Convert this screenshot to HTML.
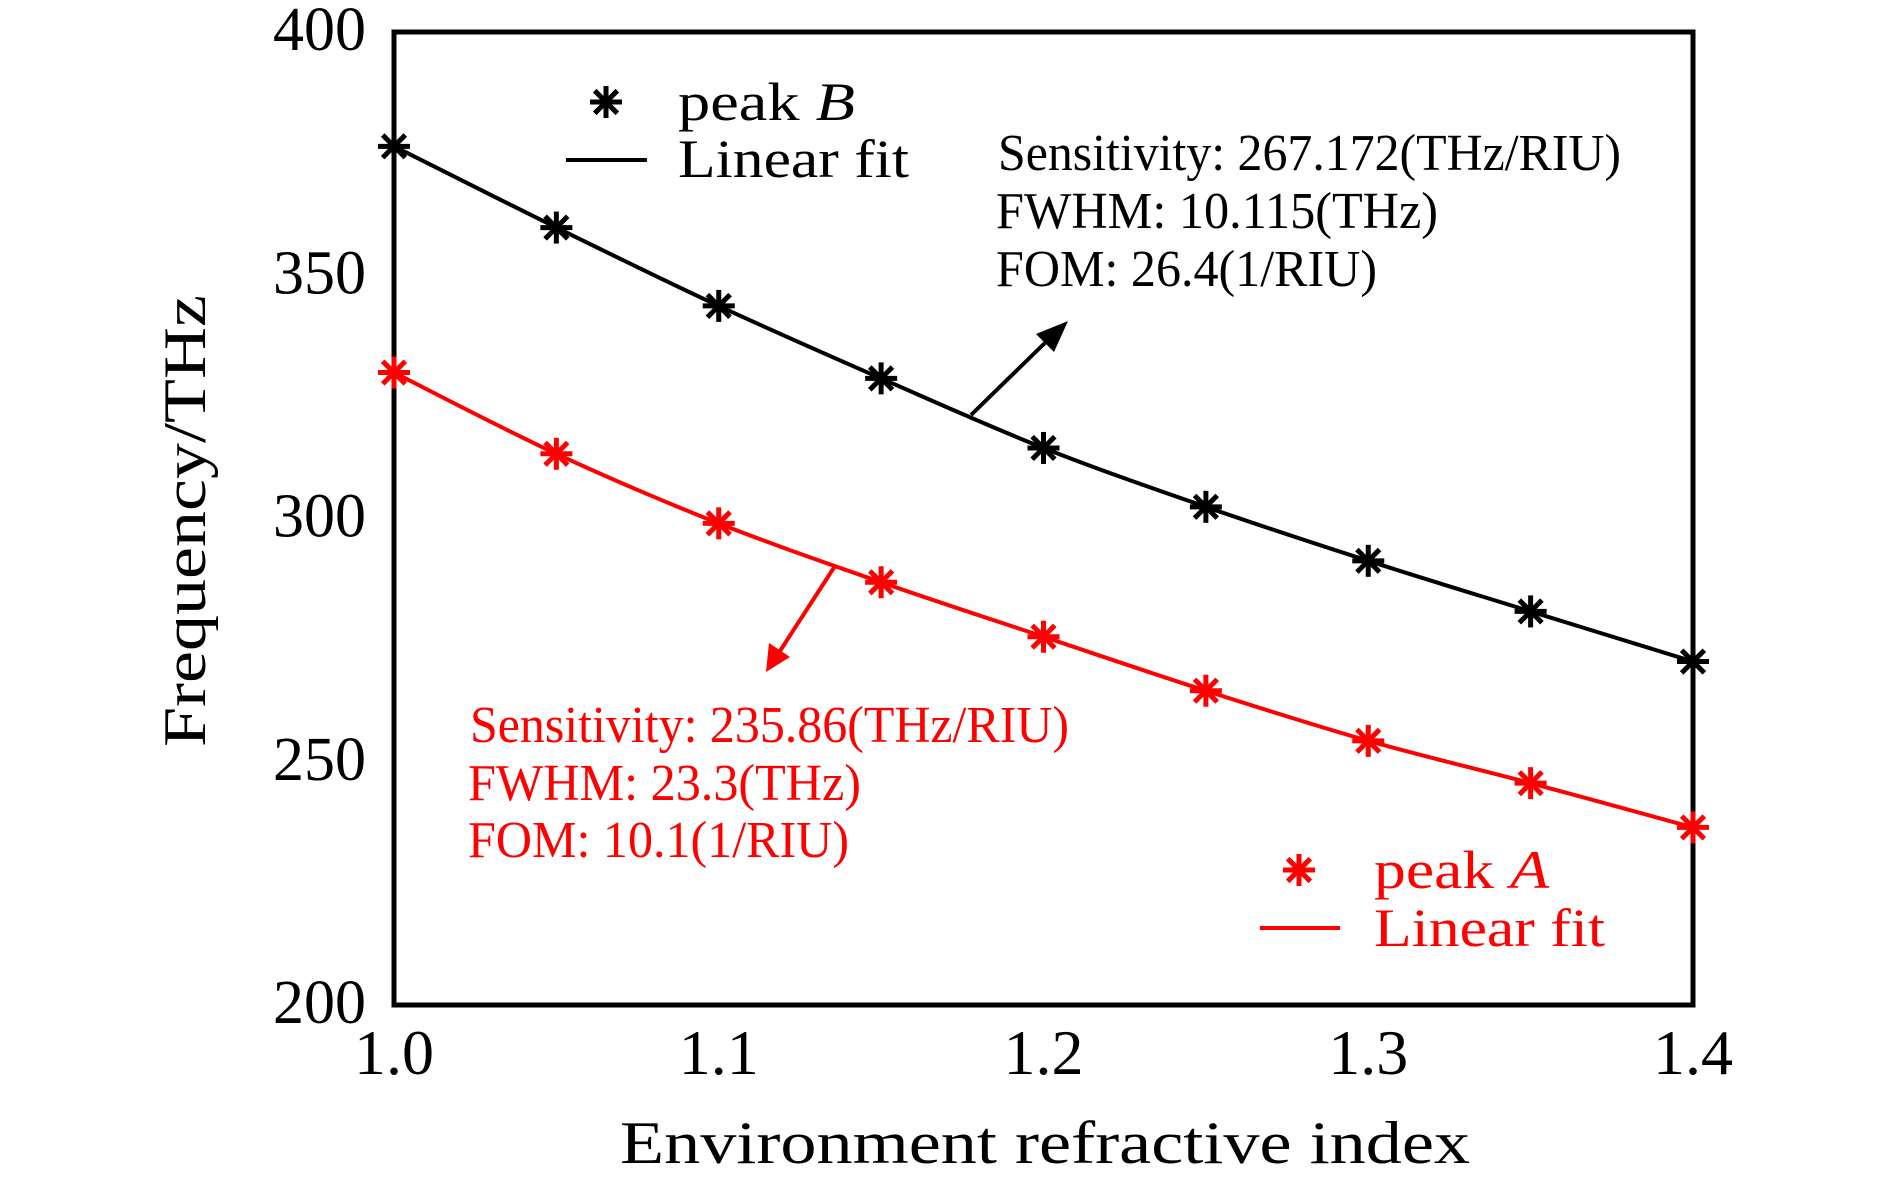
<!DOCTYPE html>
<html><head><meta charset="utf-8"><style>
html,body{margin:0;padding:0;background:#fff;}
svg{display:block;font-family:"Liberation Serif",serif;}
</style></head><body>
<svg id="chart" width="1890" height="1182" viewBox="0 0 1890 1182" xmlns="http://www.w3.org/2000/svg">
<rect x="394" y="32" width="1299" height="973" fill="none" stroke="#000" stroke-width="5"/>
<g id="ticks"></g>
<g id="series"></g>
<text x="620" y="1163" font-size="60" textLength="850" lengthAdjust="spacingAndGlyphs">Environment refractive index</text>
<text transform="translate(205,747) rotate(-90)" font-size="60" textLength="452" lengthAdjust="spacingAndGlyphs">Frequency/THz</text>

<g>
<g id="legB"></g>
<text x="678" y="120" font-size="54" textLength="177" lengthAdjust="spacingAndGlyphs">peak <tspan font-style="italic">B</tspan></text>
<line x1="566" y1="160" x2="647" y2="160" stroke="#000" stroke-width="4"/>
<text x="678" y="177" font-size="54" textLength="231" lengthAdjust="spacingAndGlyphs">Linear fit</text>
</g>
<g fill="#f00">
<g id="legA"></g>
<text x="1374" y="888" font-size="54" textLength="175" lengthAdjust="spacingAndGlyphs">peak <tspan font-style="italic">A</tspan></text>
<line x1="1260" y1="928" x2="1340" y2="928" stroke="#f00" stroke-width="4"/>
<text x="1374" y="946" font-size="54" textLength="231" lengthAdjust="spacingAndGlyphs">Linear fit</text>
</g>

<g font-size="52">
<text x="998" y="170" textLength="623" lengthAdjust="spacingAndGlyphs">Sensitivity: 267.172(THz/RIU)</text>
<text x="996" y="228" textLength="442" lengthAdjust="spacingAndGlyphs">FWHM: 10.115(THz)</text>
<text x="996" y="286" textLength="381" lengthAdjust="spacingAndGlyphs">FOM: 26.4(1/RIU)</text>
</g>
<g font-size="52" fill="#f00">
<text x="470" y="742" textLength="599" lengthAdjust="spacingAndGlyphs">Sensitivity: 235.86(THz/RIU)</text>
<text x="468" y="800" textLength="393" lengthAdjust="spacingAndGlyphs">FWHM: 23.3(THz)</text>
<text x="468" y="857" textLength="381" lengthAdjust="spacingAndGlyphs">FOM: 10.1(1/RIU)</text>
</g>
<g>
<line x1="971" y1="415" x2="1050" y2="338" stroke="#000" stroke-width="4"/>
<polygon points="1068,321 1036,334 1054,352" fill="#000"/>
</g>
<g>
<line x1="835" y1="566" x2="778" y2="654" stroke="#f00" stroke-width="4"/>
<polygon points="766,672 769,643 790,657" fill="#f00"/>
</g>
</svg>
<script>
const xTicks = [1.0, 1.1, 1.2, 1.3, 1.4];
const xTickLabels = ["1.0", "1.1", "1.2", "1.3", "1.4"];
const yTicks = [200, 250, 300, 350, 400];
const yTickLabels = ["200", "250", "300", "350", "400"];
const nValues = [1.0, 1.05, 1.1, 1.15, 1.2, 1.25, 1.3, 1.35, 1.4];
const peakB = [376.5, 359.8, 343.7, 328.8, 314.5, 302.4, 291.3, 280.9, 270.6];
const peakA = [330, 313.3, 299, 286.9, 275.7, 264.6, 254.3, 245.6, 236.5];

const NS = "http://www.w3.org/2000/svg";
const X0 = 394, X1 = 1693, Y0 = 1005, Y1 = 32;
function xs(v){ return X0 + (v - 1.0) / 0.4 * (X1 - X0); }
function ys(v){ return Y0 - (v - 200) / 200 * (Y0 - Y1); }
function mk(tag, attrs, parent){ const e = document.createElementNS(NS, tag); for (const k in attrs) e.setAttribute(k, attrs[k]); parent.appendChild(e); return e; }

const ticks = document.getElementById('ticks');
xTicks.forEach((v, i) => {
  const t = mk('text', {x: xs(v), y: 1074, 'font-size': 64, 'text-anchor': 'middle'}, ticks);
  t.textContent = xTickLabels[i];
  
  
});
yTicks.forEach((v, i) => {
  const t = mk('text', {x: 366, y: ys(v) + 18, 'font-size': 62, 'text-anchor': 'end'}, ticks);
  t.textContent = yTickLabels[i];
  
  
});

function star(cx, cy, color, parent){
  const g = mk('g', {stroke: color, 'stroke-width': 5}, parent);
  const r = 16;
  [0, 45, 90, 135].forEach(a => {
    const dx = r * Math.cos(a * Math.PI / 180), dy = r * Math.sin(a * Math.PI / 180);
    mk('line', {x1: cx - dx, y1: cy - dy, x2: cx + dx, y2: cy + dy}, g);
  });
  return g;
}
function smoothPath(pts){
  let d = `M${pts[0][0]},${pts[0][1]}`;
  for (let i = 0; i < pts.length - 1; i++){
    const p0 = pts[Math.max(0, i - 1)], p1 = pts[i], p2 = pts[i + 1], p3 = pts[Math.min(pts.length - 1, i + 2)];
    const c1 = [p1[0] + (p2[0] - p0[0]) / 6, p1[1] + (p2[1] - p0[1]) / 6];
    const c2 = [p2[0] - (p3[0] - p1[0]) / 6, p2[1] - (p3[1] - p1[1]) / 6];
    d += ` C${c1[0]},${c1[1]} ${c2[0]},${c2[1]} ${p2[0]},${p2[1]}`;
  }
  return d;
}
const series = document.getElementById('series');
function drawSeries(vals, color, name){
  const pts = nValues.map((n, i) => [xs(n), ys(vals[i])]);
  const p = mk('path', {d: smoothPath(pts), fill: 'none', stroke: color, 'stroke-width': 4}, series);
  
  
  pts.forEach(pt => {
    const s = star(pt[0], pt[1], color, series);
    
    
  });
}
drawSeries(peakB, '#000', 'peak-b');
drawSeries(peakA, '#f00', 'peak-a');
star(606, 102, '#000', document.getElementById('legB'));
star(1299, 870, '#f00', document.getElementById('legA'));
</script>
</body></html>
